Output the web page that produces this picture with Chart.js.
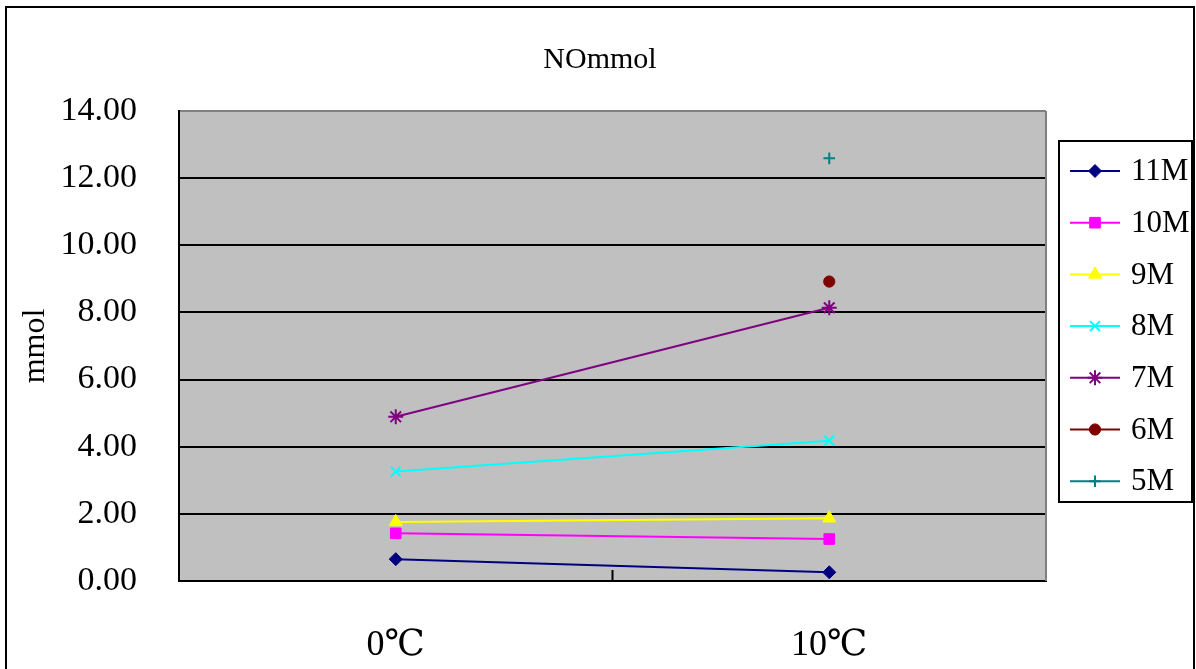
<!DOCTYPE html>
<html>
<head>
<meta charset="utf-8">
<title>NOmmol</title>
<script src="https://cdn.jsdelivr.net/npm/chart.js@4/dist/chart.umd.min.js"></script>
<style>
  html, body { margin: 0; padding: 0; background: #fff; }
  #wrap { width: 1196px; height: 669px; }
</style>
</head>
<body>
<div id="wrap"><canvas id="c" width="1196" height="669"></canvas></div>
<script>
// Temperature categories and y tick range
const categories = ['0\u2103', '10\u2103'];
const yMin = 0, yMax = 14, yStep = 2;
const chartTitle = 'NOmmol';

// NO amount (mmol) per month series
const seriesNames = ['11M', '10M', '9M', '8M', '7M', '6M', '5M'];
const m11 = [0.65, 0.26];
const m10 = [1.42, 1.25];
const m9  = [1.76, 1.87];
const m8  = [3.26, 4.18];
const m7  = [4.89, 8.14];
const m6  = [null, 8.92];
const m5  = [null, 12.59];

const seriesValues = [m11, m10, m9, m8, m7, m6, m5];
const seriesColors = ['#000080', '#FF00FF', '#FFFF00', '#00FFFF', '#800080', '#800000', '#008080'];
const seriesMarkers = ['rectRot', 'rect', 'triangle', 'crossRot', 'star', 'circle', 'cross'];
const markerSizes = [6.5, 7.5, 7.5, 7, 7.5, 5.6, 5.8];

const serif = "'Liberation Serif', 'Times New Roman', 'DejaVu Serif', serif";

const datasets = seriesNames.map((name, i) => {
  const stroked = ['crossRot', 'star', 'cross'].includes(seriesMarkers[i]);
  return {
    label: name,
    data: seriesValues[i],
    borderColor: seriesColors[i],
    backgroundColor: seriesColors[i],
    borderWidth: 2,
    tension: 0,
    spanGaps: false,
    pointStyle: seriesMarkers[i],
    pointRadius: markerSizes[i],
    pointHoverRadius: markerSizes[i],
    pointBorderWidth: stroked ? 2 : 1,
    pointBorderColor: seriesColors[i],
    pointBackgroundColor: seriesColors[i]
  };
});

// Page frame, title, plot background, plot border and the middle x tick
const framePlugin = {
  id: 'frame',
  beforeDraw(chart) {
    const { ctx, chartArea: a } = chart;
    ctx.save();
    ctx.fillStyle = '#ffffff';
    ctx.fillRect(0, 0, chart.width, chart.height);
    ctx.fillStyle = '#C0C0C0';
    ctx.fillRect(a.left, a.top, a.right - a.left, a.bottom - a.top);
    ctx.restore();
  },
  afterDraw(chart) {
    const { ctx, chartArea: a } = chart;
    const xs = chart.scales.x;
    ctx.save();
    // chart title, centred on the page
    ctx.fillStyle = '#000';
    ctx.font = '30px ' + serif;
    ctx.textAlign = 'center';
    ctx.textBaseline = 'alphabetic';
    ctx.fillText(chartTitle, 600, 68);
    // gray right edge of the plot
    ctx.strokeStyle = '#808080';
    ctx.lineWidth = 2;
    ctx.beginPath();
    ctx.moveTo(a.right, a.top);
    ctx.lineTo(a.right, a.bottom);
    ctx.stroke();
    // tick mark between the two categories
    const mid = (xs.getPixelForValue(0) + xs.getPixelForValue(1)) / 2;
    ctx.strokeStyle = '#000';
    ctx.lineWidth = 2;
    ctx.beginPath();
    ctx.moveTo(mid, a.bottom);
    ctx.lineTo(mid, a.bottom - 11);
    ctx.stroke();
    // outer frame
    ctx.lineWidth = 2;
    ctx.strokeRect(6, 7, 1188, 700);
    ctx.restore();
  }
};

// Legend: line segment with marker, then the series name
const legendPlugin = {
  id: 'sideLegend',
  afterDraw(chart) {
    const { ctx } = chart;
    const boxX = 1059, boxY = 141, boxW = 133, boxH = 361;
    const firstY = 171, gap = 51.7;
    ctx.save();
    ctx.strokeStyle = '#000';
    ctx.lineWidth = 2;
    ctx.strokeRect(boxX, boxY, boxW, boxH);
    chart.data.datasets.forEach((ds, i) => {
      const y = firstY + i * gap;
      ctx.strokeStyle = ds.borderColor;
      ctx.lineWidth = 2;
      ctx.beginPath();
      ctx.moveTo(1070, y);
      ctx.lineTo(1120, y);
      ctx.stroke();
      ctx.fillStyle = ds.pointBackgroundColor;
      ctx.strokeStyle = ds.pointBorderColor;
      ctx.lineWidth = ds.pointBorderWidth;
      Chart.helpers.drawPoint(ctx, {
        pointStyle: ds.pointStyle,
        radius: ds.pointRadius,
        borderWidth: ds.pointBorderWidth,
        rotation: 0
      }, 1095, y);
      ctx.fillStyle = '#000';
      ctx.font = '31px ' + serif;
      ctx.textAlign = 'left';
      ctx.textBaseline = 'middle';
      ctx.fillText(ds.label, 1131, y + 1);
    });
    ctx.restore();
  }
};

new Chart(document.getElementById('c'), {
  type: 'line',
  data: { labels: categories, datasets },
  options: {
    responsive: false,
    animation: false,
    events: [],
    layout: { padding: { left: 0, right: 150, top: 111, bottom: 0 } },
    plugins: {
      legend: { display: false },
      tooltip: { enabled: false },
      title: { display: false }
    },
    scales: {
      x: {
        type: 'category',
        offset: true,
        grid: { display: false, drawTicks: false },
        border: { display: true, color: '#000', width: 2 },
        ticks: {
          color: '#000',
          font: { family: serif, size: 36 },
          padding: 43,
          maxRotation: 0
        },
        afterFit(scale) { scale.height = 88; }
      },
      y: {
        min: yMin,
        max: yMax,
        ticks: {
          stepSize: yStep,
          color: '#000',
          font: { family: serif, size: 34 },
          padding: 42,
          callback: v => Number(v).toFixed(2)
        },
        grid: {
          drawTicks: false,
          lineWidth: 2,
          color: c => (c.tick && c.tick.value === yMax) ? '#808080' : '#000'
        },
        border: { display: true, color: '#000', width: 2 },
        title: {
          display: true,
          text: 'mmol',
          color: '#000',
          font: { family: serif, size: 32 },
          padding: { top: 16, bottom: 0 }
        },
        afterFit(scale) { scale.width = 179; }
      }
    }
  },
  plugins: [framePlugin, legendPlugin]
});
</script>
</body>
</html>
